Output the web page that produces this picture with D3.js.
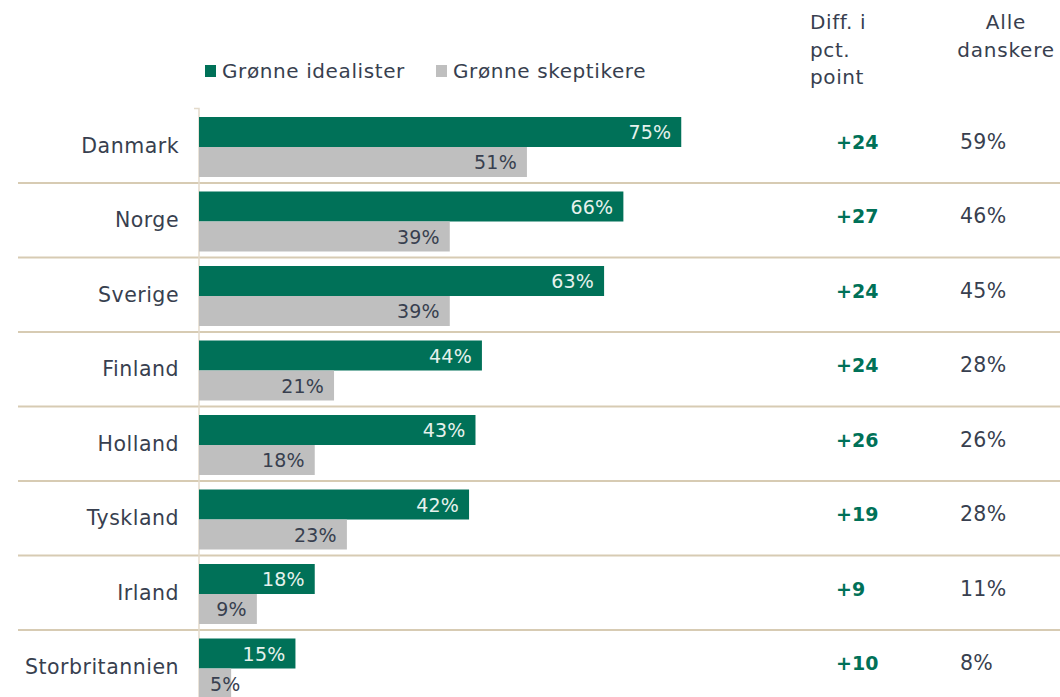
<!DOCTYPE html>
<html>
<head>
<meta charset="utf-8">
<script src="https://cdn.jsdelivr.net/npm/d3@7"></script>
<style>
  body { margin: 0; background: #fff; }
  svg { display: block; font-family: "DejaVu Sans", sans-serif; }
</style>
</head>
<body>
<div id="chart"></div>
<script>
// data
const countries = ["Danmark", "Norge", "Sverige", "Finland", "Holland", "Tyskland", "Irland", "Storbritannien"];
const idealists = [75, 66, 63, 44, 43, 42, 18, 15];
const skeptics = [51, 39, 39, 21, 18, 23, 9, 5];
const diffs = ["+24", "+27", "+24", "+24", "+26", "+19", "+9", "+10"];
const allDanes = [59, 46, 45, 28, 26, 28, 11, 8];
const seriesNames = ["Grønne idealister", "Grønne skeptikere"];

function drawChart() {
  const width = 1060;
  const height = 697;
  const green = "#007158";
  const grey = "#bfbfbf";
  const tan = "#d7cbb3";
  const textColor = "#383f4f";

  const svg = d3.select("#chart")
    .append("svg")
    .attr("width", width)
    .attr("height", height);

  const x = d3.scaleLinear().domain([0, 100]).range([199, 842]);
  const y = d3.scaleBand().domain(countries).range([108.5, 108.5 + 74.5 * countries.length]);
  const barH = 30;

  // row separators
  svg.append("g")
    .selectAll("line")
    .data(countries.slice(1))
    .join("line")
    .attr("x1", 18)
    .attr("x2", width)
    .attr("y1", (d) => y(d))
    .attr("y2", (d) => y(d))
    .attr("stroke", tan)
    .attr("stroke-width", 2);

  // vertical axis
  svg.append("path")
    .attr("d", `M194,${y.range()[0]}H${x(0)}V${height}`)
    .attr("fill", "none")
    .attr("stroke", "#e3dacb")
    .attr("stroke-width", 1.5);

  const rows = svg.append("g")
    .selectAll("g")
    .data(countries)
    .join("g")
    .attr("transform", (d) => `translate(0,${y(d)})`);

  rows.append("rect")
    .attr("x", x(0))
    .attr("y", 8.5)
    .attr("width", (d, i) => x(idealists[i]) - x(0))
    .attr("height", barH)
    .attr("fill", green);

  rows.append("rect")
    .attr("x", x(0))
    .attr("y", 8.5 + barH)
    .attr("width", (d, i) => x(skeptics[i]) - x(0))
    .attr("height", barH)
    .attr("fill", grey);

  // value labels inside bar ends
  function valueLabel(sel, values, dy, color) {
    sel.append("text")
      .attr("y", dy)
      .attr("text-anchor", "end")
      .attr("fill", color)
      .style("font-size", "19px")
      .style("letter-spacing", "0.2px")
      .text((d, i) => values[i] + "%")
      .attr("x", function (d, i) {
        const w = this.getComputedTextLength();
        return Math.max(x(values[i]) - 10, x(0) + 11 + w);
      });
  }
  valueLabel(rows, idealists, 8.5 + 22, "#e6f1ed");
  valueLabel(rows, skeptics, 8.5 + barH + 22, textColor);

  // country labels
  rows.append("text")
    .attr("x", 179)
    .attr("y", 44)
    .attr("text-anchor", "end")
    .attr("fill", textColor)
    .style("font-size", "20.5px")
    .style("letter-spacing", "0.5px")
    .text((d) => d);

  // diff column
  rows.append("text")
    .attr("x", 836)
    .attr("y", 40)
    .attr("fill", green)
    .style("font-size", "19px")
    .style("font-weight", "bold")
    .text((d, i) => diffs[i]);

  // all danes column
  rows.append("text")
    .attr("x", 960)
    .attr("y", 40)
    .attr("fill", textColor)
    .style("font-size", "20.5px")
    .style("letter-spacing", "0.3px")
    .text((d, i) => allDanes[i] + "%");

  // column headers
  const diffHead = svg.append("text")
    .attr("fill", textColor)
    .style("font-size", "20px")
    .style("letter-spacing", "0.6px");
  ["Diff. i", "pct.", "point"].forEach((t, i) => {
    diffHead.append("tspan").attr("x", 810).attr("y", 29 + i * 27.5).text(t);
  });
  const allHead = svg.append("text")
    .attr("fill", textColor)
    .attr("text-anchor", "middle")
    .style("font-size", "20px")
    .style("letter-spacing", "0.8px");
  ["Alle", "danskere"].forEach((t, i) => {
    allHead.append("tspan").attr("x", 1006).attr("y", 29 + i * 27.5).text(t);
  });

  // legend
  const legendX = [205, 436];
  const legend = svg.append("g")
    .selectAll("g")
    .data(seriesNames)
    .join("g")
    .attr("transform", (d, i) => `translate(${legendX[i]},65)`);
  legend.append("rect")
    .attr("width", 11)
    .attr("height", 12)
    .attr("fill", (d, i) => (i === 0 ? green : grey));
  legend.append("text")
    .attr("x", 17)
    .attr("y", 12.5)
    .attr("fill", textColor)
    .style("font-size", "20px")
    .style("letter-spacing", "0.6px")
    .text((d) => d);
}

window.onload = function () {
  drawChart();
};
</script>
</body>
</html>
